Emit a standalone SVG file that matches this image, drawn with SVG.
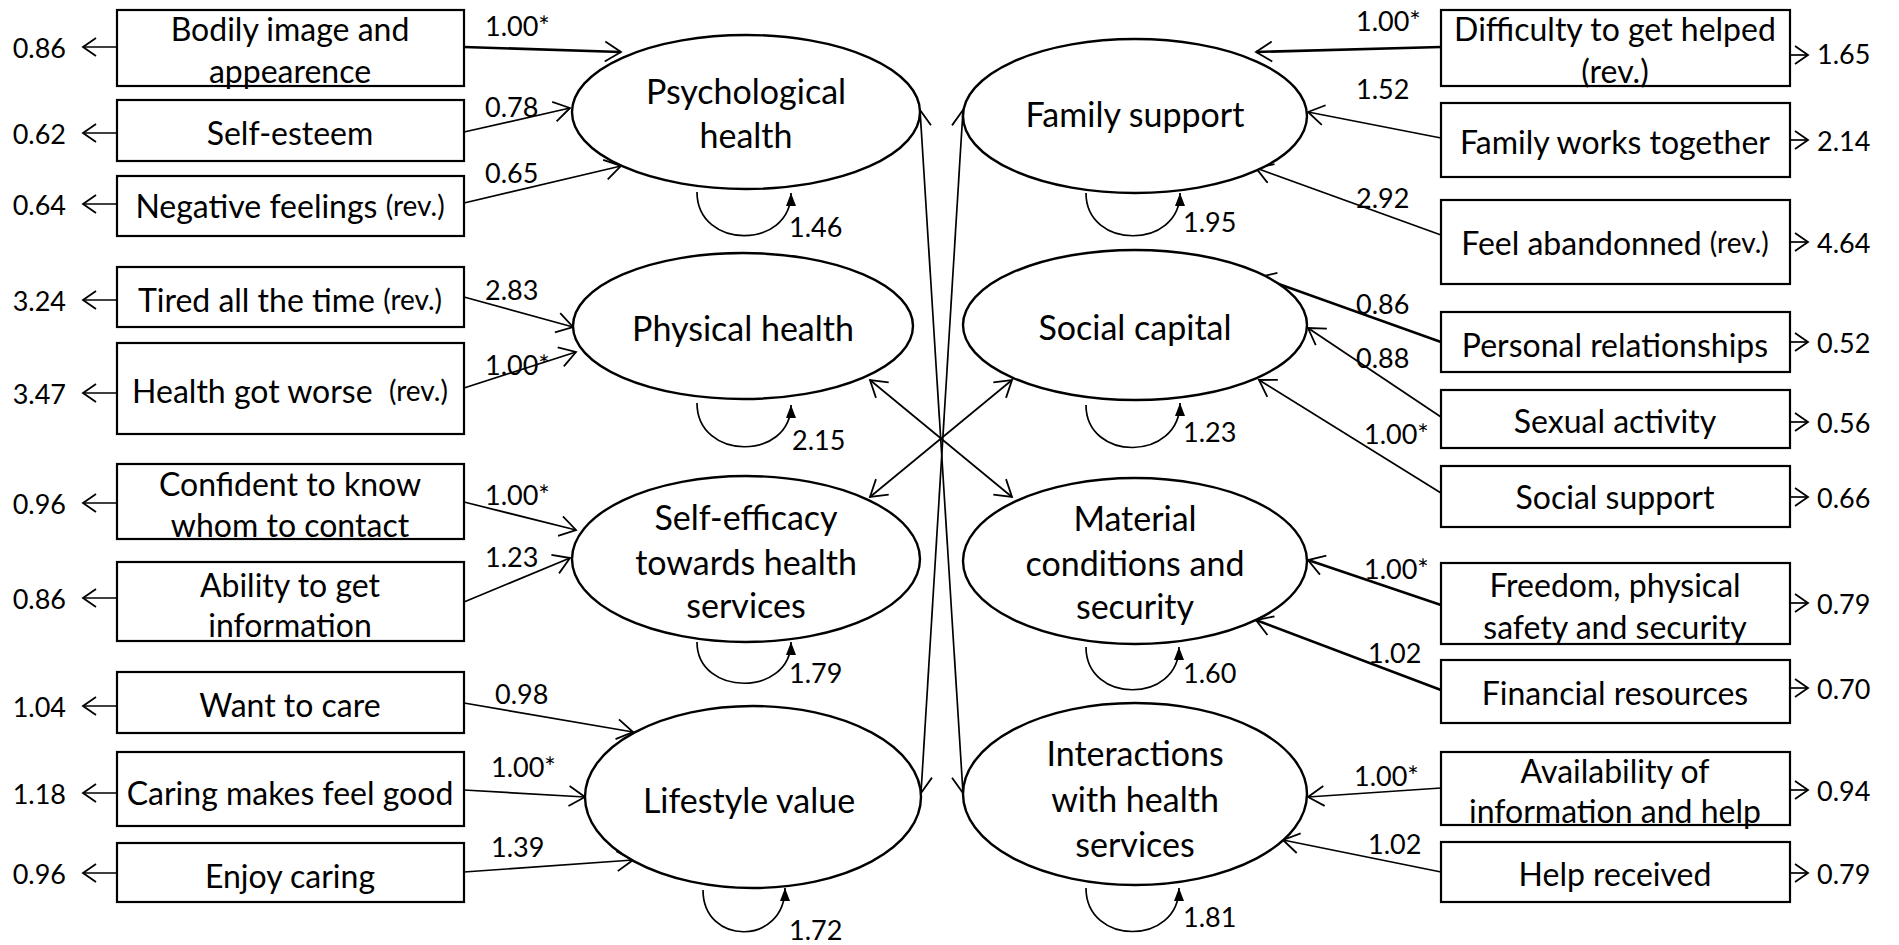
<svg xmlns="http://www.w3.org/2000/svg" width="1899" height="945" viewBox="0 0 1899 945">
<style>
text{font-family:Lato,"Open Sans",sans-serif;fill:#000;dominant-baseline:central;text-anchor:middle}
.bt{font-size:32px}
.et{font-size:34px}
.num{font-size:27px}
.l{text-anchor:start}
.r{text-anchor:end}
.rev{font-size:28px}
.box{fill:#fff;stroke:#000;stroke-width:2.2}
.ell{fill:#fff;stroke:#000;stroke-width:2.4}
.c{fill:none;stroke:#000;stroke-width:1.7;marker-end:url(#oa)}
.ct{stroke-width:2.6}
.cv{fill:none;stroke:#000;stroke-width:1.7;marker-start:url(#oa);marker-end:url(#oa)}
.er{fill:none;stroke:#000;stroke-width:1.7;marker-end:url(#sa)}
.lp{fill:none;stroke:#000;stroke-width:1.7;marker-end:url(#fa)}
</style>
<defs>
<marker id="oa" viewBox="0 0 22 22" refX="20" refY="11" markerWidth="22" markerHeight="22" markerUnits="userSpaceOnUse" orient="auto-start-reverse">
<path d="M4,1 L20,11 L4,21" fill="none" stroke="#000" stroke-width="1.8"/>
</marker>
<marker id="sa" viewBox="0 0 18 20" refX="16" refY="10" markerWidth="18" markerHeight="20" markerUnits="userSpaceOnUse" orient="auto">
<path d="M3,1 L16,10 L3,19" fill="none" stroke="#000" stroke-width="1.8"/>
</marker>
<marker id="fa" viewBox="0 0 14 12" refX="13" refY="6" markerWidth="14" markerHeight="12" markerUnits="userSpaceOnUse" orient="auto">
<path d="M0,1 L13,6 L0,11 Z" fill="#000"/>
</marker>
</defs>

<g id="connectors">
<!-- left indicators to latents -->
<line class="c ct" x1="464" y1="47" x2="621" y2="52"/>
<line class="c" x1="464" y1="132" x2="570" y2="108"/>
<line class="c" x1="464" y1="203" x2="621" y2="166"/>
<line class="c" x1="464" y1="297" x2="573" y2="327"/>
<line class="c" x1="464" y1="388" x2="576" y2="352"/>
<line class="c" x1="464" y1="502" x2="576" y2="530"/>
<line class="c" x1="464" y1="602" x2="570" y2="558"/>
<line class="c" x1="464" y1="703" x2="633" y2="732"/>
<line class="c" x1="464" y1="790" x2="585" y2="797"/>
<line class="c" x1="464" y1="872" x2="633" y2="860"/>
<!-- right indicators to latents -->
<line class="c ct" x1="1441" y1="47" x2="1256" y2="52"/>
<line class="c" x1="1441" y1="138" x2="1308" y2="112"/>
<line class="c" x1="1441" y1="235" x2="1256" y2="168"/>
<line class="c ct" x1="1441" y1="342" x2="1259" y2="277"/>
<line class="c" x1="1441" y1="417" x2="1308" y2="328"/>
<line class="c" x1="1441" y1="493" x2="1259" y2="380"/>
<line class="c ct" x1="1441" y1="605" x2="1308" y2="560"/>
<line class="c ct" x1="1441" y1="690" x2="1256" y2="620"/>
<line class="c" x1="1441" y1="788" x2="1308" y2="797"/>
<line class="c" x1="1441" y1="872" x2="1283" y2="840"/>
<!-- covariances -->
<line class="cv" x1="920" y1="110" x2="963" y2="793"/>
<line class="cv" x1="963" y1="110" x2="921" y2="793"/>
<line class="cv" x1="870" y1="380" x2="1012" y2="497"/>
<line class="cv" x1="870" y1="497" x2="1012" y2="380"/>
<!-- error arrows left -->
<line class="er" x1="117" y1="47" x2="83" y2="47"/>
<line class="er" x1="117" y1="133" x2="83" y2="133"/>
<line class="er" x1="117" y1="204" x2="83" y2="204"/>
<line class="er" x1="117" y1="300" x2="83" y2="300"/>
<line class="er" x1="117" y1="393" x2="83" y2="393"/>
<line class="er" x1="117" y1="503" x2="83" y2="503"/>
<line class="er" x1="117" y1="598" x2="83" y2="598"/>
<line class="er" x1="117" y1="706" x2="83" y2="706"/>
<line class="er" x1="117" y1="793" x2="83" y2="793"/>
<line class="er" x1="117" y1="873" x2="83" y2="873"/>
<!-- error arrows right -->
<line class="er" x1="1790" y1="55" x2="1808" y2="55"/>
<line class="er" x1="1790" y1="140" x2="1808" y2="140"/>
<line class="er" x1="1790" y1="242" x2="1808" y2="242"/>
<line class="er" x1="1790" y1="342" x2="1808" y2="342"/>
<line class="er" x1="1790" y1="422" x2="1808" y2="422"/>
<line class="er" x1="1790" y1="497" x2="1808" y2="497"/>
<line class="er" x1="1790" y1="603" x2="1808" y2="603"/>
<line class="er" x1="1790" y1="688" x2="1808" y2="688"/>
<line class="er" x1="1790" y1="790" x2="1808" y2="790"/>
<line class="er" x1="1790" y1="873" x2="1808" y2="873"/>
<!-- self loops -->
<path class="lp" d="M697,192 C697,250 791,250 791,193"/>
<path class="lp" d="M697,403 C697,461 791,461 791,405"/>
<path class="lp" d="M697,642 C697,697 791,697 791,642"/>
<path class="lp" d="M703,890 C703,946 785,946 785,888"/>
<path class="lp" d="M1086,193 C1086,250 1180,250 1180,193"/>
<path class="lp" d="M1086,405 C1086,462 1180,462 1180,403"/>
<path class="lp" d="M1086,647 C1086,704 1179,704 1179,647"/>
<path class="lp" d="M1086,888 C1086,946 1179,946 1179,888"/>
<!-- loading labels -->
<text class="num l" x="485" y="25">1.00*</text>
<text class="num l" x="485" y="106">0.78</text>
<text class="num l" x="485" y="172">0.65</text>
<text class="num l" x="485" y="289">2.83</text>
<text class="num l" x="485" y="364">1.00*</text>
<text class="num l" x="485" y="494">1.00*</text>
<text class="num l" x="485" y="556">1.23</text>
<text class="num l" x="495" y="693">0.98</text>
<text class="num l" x="491" y="766">1.00*</text>
<text class="num l" x="491" y="846">1.39</text>
<text class="num l" x="1356" y="20">1.00*</text>
<text class="num l" x="1356" y="88">1.52</text>
<text class="num l" x="1356" y="197">2.92</text>
<text class="num l" x="1356" y="303">0.86</text>
<text class="num l" x="1356" y="357">0.88</text>
<text class="num l" x="1364" y="433">1.00*</text>
<text class="num l" x="1364" y="568">1.00*</text>
<text class="num l" x="1368" y="652">1.02</text>
<text class="num l" x="1354" y="775">1.00*</text>
<text class="num l" x="1368" y="843">1.02</text>
<!-- error labels -->
<text class="num r" x="66" y="47">0.86</text>
<text class="num r" x="66" y="133">0.62</text>
<text class="num r" x="66" y="204">0.64</text>
<text class="num r" x="66" y="300">3.24</text>
<text class="num r" x="66" y="393">3.47</text>
<text class="num r" x="66" y="503">0.96</text>
<text class="num r" x="66" y="598">0.86</text>
<text class="num r" x="66" y="706">1.04</text>
<text class="num r" x="66" y="793">1.18</text>
<text class="num r" x="66" y="873">0.96</text>
<text class="num l" x="1817" y="53">1.65</text>
<text class="num l" x="1817" y="140">2.14</text>
<text class="num l" x="1817" y="242">4.64</text>
<text class="num l" x="1817" y="342">0.52</text>
<text class="num l" x="1817" y="422">0.56</text>
<text class="num l" x="1817" y="497">0.66</text>
<text class="num l" x="1817" y="603">0.79</text>
<text class="num l" x="1817" y="688">0.70</text>
<text class="num l" x="1817" y="790">0.94</text>
<text class="num l" x="1817" y="873">0.79</text>
<!-- variance labels -->
<text class="num l" x="789" y="226">1.46</text>
<text class="num l" x="792" y="439">2.15</text>
<text class="num l" x="789" y="672">1.79</text>
<text class="num l" x="789" y="929">1.72</text>
<text class="num l" x="1183" y="221">1.95</text>
<text class="num l" x="1183" y="431">1.23</text>
<text class="num l" x="1183" y="672">1.60</text>
<text class="num l" x="1183" y="916">1.81</text>
</g>

<g id="lat-psychological">
<ellipse class="ell" cx="746" cy="112" rx="174" ry="77"/>
<text class="et" x="746" y="90">Psychological</text>
<text class="et" x="746" y="134">health</text>
</g>
<g id="lat-physical">
<ellipse class="ell" cx="743" cy="326" rx="170" ry="73"/>
<text class="et" x="743" y="327">Physical health</text>
</g>
<g id="lat-selfefficacy">
<ellipse class="ell" cx="746" cy="559" rx="174" ry="83"/>
<text class="et" x="746" y="516">Self-efficacy</text>
<text class="et" x="746" y="561">towards health</text>
<text class="et" x="746" y="604">services</text>
</g>
<g id="lat-lifestyle">
<ellipse class="ell" cx="753" cy="797" rx="168" ry="91"/>
<text class="et" x="749" y="799">Lifestyle value</text>
</g>
<g id="lat-family">
<ellipse class="ell" cx="1135" cy="116" rx="172" ry="77"/>
<text class="et" x="1135" y="113">Family support</text>
</g>
<g id="lat-social">
<ellipse class="ell" cx="1135" cy="325" rx="172" ry="75"/>
<text class="et" x="1135" y="326">Social capital</text>
</g>
<g id="lat-material">
<ellipse class="ell" cx="1135" cy="561" rx="172" ry="83"/>
<text class="et" x="1135" y="517">Material</text>
<text class="et" x="1135" y="562">conditions and</text>
<text class="et" x="1135" y="605">security</text>
</g>
<g id="lat-interactions">
<ellipse class="ell" cx="1135" cy="794" rx="172" ry="91"/>
<text class="et" x="1135" y="752">Interactions</text>
<text class="et" x="1135" y="798">with health</text>
<text class="et" x="1135" y="843">services</text>
</g>

<g id="ind-bodily"><rect class="box" x="117" y="10" width="347" height="76"/><text class="bt" x="290" y="28">Bodily image and</text><text class="bt" x="290" y="70">appearence</text></g>
<g id="ind-selfesteem"><rect class="box" x="117" y="100" width="347" height="61"/><text class="bt" x="290" y="132">Self-esteem</text></g>
<g id="ind-negative"><rect class="box" x="117" y="176" width="347" height="60"/><text class="bt" x="290" y="205">Negative feelings <tspan class="rev">(rev.)</tspan></text></g>
<g id="ind-tired"><rect class="box" x="117" y="267" width="347" height="60"/><text class="bt" x="290" y="299">Tired all the time <tspan class="rev">(rev.)</tspan></text></g>
<g id="ind-healthworse"><rect class="box" x="117" y="343" width="347" height="91"/><text class="bt" x="290" y="390" xml:space="preserve">Health got worse  <tspan class="rev">(rev.)</tspan></text></g>
<g id="ind-confident"><rect class="box" x="117" y="464" width="347" height="75"/><text class="bt" x="290" y="483">Confident to know</text><text class="bt" x="290" y="524">whom to contact</text></g>
<g id="ind-ability"><rect class="box" x="117" y="562" width="347" height="79"/><text class="bt" x="290" y="584">Ability to get</text><text class="bt" x="290" y="624">information</text></g>
<g id="ind-wantcare"><rect class="box" x="117" y="672" width="347" height="61"/><text class="bt" x="290" y="704">Want to care</text></g>
<g id="ind-caringgood"><rect class="box" x="117" y="752" width="347" height="74"/><text class="bt" x="290" y="792">Caring makes feel good</text></g>
<g id="ind-enjoy"><rect class="box" x="117" y="843" width="347" height="59"/><text class="bt" x="290" y="875">Enjoy caring</text></g>

<g id="ind-difficulty"><rect class="box" x="1441" y="10" width="349" height="76"/><text class="bt" x="1615" y="28">Difficulty to get helped</text><text class="bt" x="1615" y="70">(rev.)</text></g>
<g id="ind-familyworks"><rect class="box" x="1441" y="103" width="349" height="74"/><text class="bt" x="1615" y="141">Family works together</text></g>
<g id="ind-abandonned"><rect class="box" x="1441" y="200" width="349" height="84"/><text class="bt" x="1615" y="242">Feel abandonned <tspan class="rev">(rev.)</tspan></text></g>
<g id="ind-personal"><rect class="box" x="1441" y="312" width="349" height="60"/><text class="bt" x="1615" y="344">Personal relationships</text></g>
<g id="ind-sexual"><rect class="box" x="1441" y="390" width="349" height="58"/><text class="bt" x="1615" y="420">Sexual activity</text></g>
<g id="ind-socialsupport"><rect class="box" x="1441" y="466" width="349" height="61"/><text class="bt" x="1615" y="496">Social support</text></g>
<g id="ind-freedom"><rect class="box" x="1441" y="563" width="349" height="81"/><text class="bt" x="1615" y="584">Freedom, physical</text><text class="bt" x="1615" y="626">safety and security</text></g>
<g id="ind-financial"><rect class="box" x="1441" y="660" width="349" height="63"/><text class="bt" x="1615" y="692">Financial resources</text></g>
<g id="ind-availability"><rect class="box" x="1441" y="752" width="349" height="73"/><text class="bt" x="1615" y="770">Availability of</text><text class="bt" x="1615" y="810">information and help</text></g>
<g id="ind-helpreceived"><rect class="box" x="1441" y="842" width="349" height="60"/><text class="bt" x="1615" y="873">Help received</text></g>
</svg>
